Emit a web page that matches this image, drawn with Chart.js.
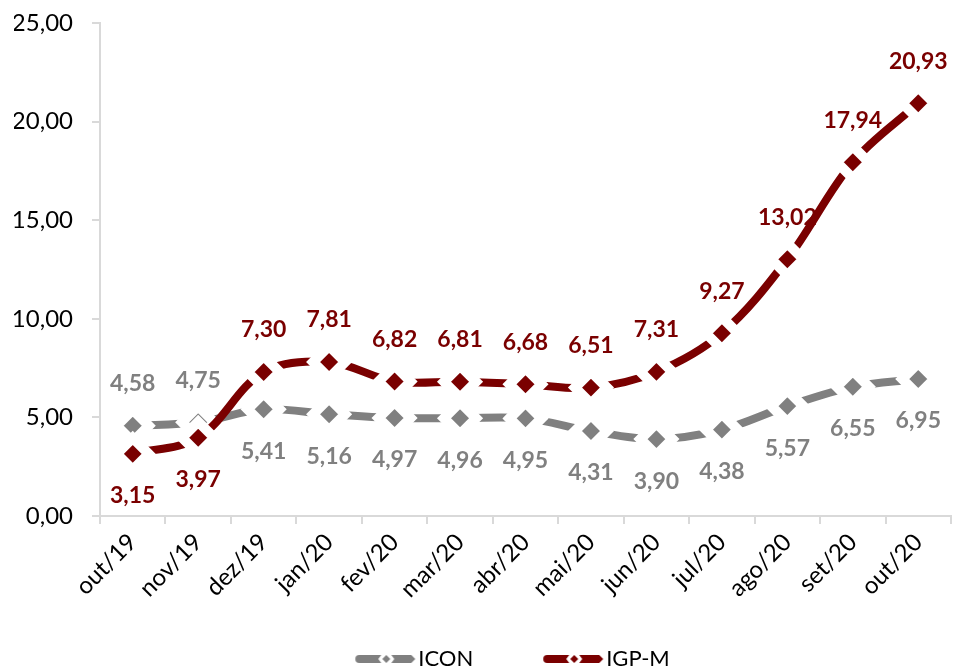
<!DOCTYPE html>
<html>
<head>
<meta charset="utf-8">
<script src="https://cdn.jsdelivr.net/npm/chart.js@4"></script>
<style>
  html, body { margin: 0; padding: 0; background: #fff; }
  #caixa { width: 960px; height: 672px; }
</style>
</head>
<body>
<div id="caixa"><canvas id="grafico"></canvas></div>
<script>
    // Dados do gráfico
    var meses = ['out/19', 'nov/19', 'dez/19', 'jan/20', 'fev/20', 'mar/20', 'abr/20',
                 'mai/20', 'jun/20', 'jul/20', 'ago/20', 'set/20', 'out/20'];
    var icon = [4.58, 4.75, 5.41, 5.16, 4.97, 4.96, 4.95, 4.31, 3.90, 4.38, 5.57, 6.55, 6.95];
    var igpm = [3.15, 3.97, 7.30, 7.81, 6.82, 6.81, 6.68, 6.51, 7.31, 9.27, 13.02, 17.94, 20.93];
    var ticksY = [0, 5, 10, 15, 20, 25];

    var corIcon = '#808080';
    var corIgpm = '#7a0000';
    var fonte = 'Lato, "Open Sans", sans-serif';

    function virgula(v) {
        return v.toFixed(2).replace('.', ',');
    }

    // marcador da legenda: traço - losango - traço
    function marcaLegenda(cor, largura) {
        var c = document.createElement('canvas');
        c.width = largura; c.height = 14;
        var g = c.getContext('2d');
        var x0 = largura - 62;
        g.fillStyle = cor;
        g.beginPath();
        g.moveTo(x0 + 4, 3); g.lineTo(x0 + 26, 3); g.lineTo(x0 + 23, 7); g.lineTo(x0 + 26, 11);
        g.lineTo(x0 + 4, 11); g.arc(x0 + 4, 7, 4, Math.PI / 2, Math.PI * 1.5);
        g.fill();
        g.beginPath();
        g.moveTo(x0 + 31, 3); g.lineTo(x0 + 35, 7); g.lineTo(x0 + 31, 11); g.lineTo(x0 + 27, 7);
        g.fill();
        g.beginPath();
        g.moveTo(x0 + 36, 3); g.lineTo(x0 + 56, 3); g.lineTo(x0 + 60, 7); g.lineTo(x0 + 56, 11);
        g.lineTo(x0 + 36, 11); g.lineTo(x0 + 39, 7);
        g.fill();
        return c;
    }

    var larguraCaixa = 112;
    var marcas = [marcaLegenda(corIcon, larguraCaixa + 20), marcaLegenda(corIgpm, larguraCaixa + 20)];

    // rótulos de dados (acima / abaixo conforme a outra série)
    var rotulos = {
        id: 'rotulos',
        afterDatasetsDraw: function(chart) {
            var ctx = chart.ctx;
            ctx.save();
            ctx.font = 'bold 23px ' + fonte;
            ctx.textAlign = 'center';
            ctx.textBaseline = 'middle';
            chart.data.datasets.forEach(function(ds, i) {
                var meta = chart.getDatasetMeta(i);
                var outra = chart.data.datasets[1 - i].data;
                ctx.fillStyle = ds.borderColor;
                meta.data.forEach(function(pt, j) {
                    var acima = ds.data[j] > outra[j];
                    ctx.fillText(virgula(ds.data[j]), pt.x, pt.y + (acima ? -42 : 42));
                });
            });
            ctx.restore();
        }
    };

    var ctx1 = document.getElementById('grafico').getContext('2d');
    var grafico = new Chart(ctx1, {
        type: 'line',
        data: {
            labels: meses,
            datasets: [{
                label: 'ICON',
                data: icon,
                borderColor: corIcon,
                backgroundColor: corIcon,
                borderWidth: 8,
                tension: 0.35,
                pointStyle: 'rectRot',
                pointRadius: 16,
                pointBorderWidth: 10,
                pointBorderColor: '#fff',
                pointBackgroundColor: corIcon,
                order: 1
            }, {
                label: 'IGP-M',
                data: igpm,
                borderColor: corIgpm,
                backgroundColor: corIgpm,
                borderWidth: 8,
                tension: 0.35,
                pointStyle: 'rectRot',
                pointRadius: 16,
                pointBorderWidth: 10,
                pointBorderColor: '#fff',
                pointBackgroundColor: corIgpm,
                order: 0
            }]
        },
        options: {
            responsive: true,
            maintainAspectRatio: false,
            animation: false,
            layout: { autoPadding: false, padding: { top: 23, right: 9, left: 14, bottom: -8 } },
            plugins: {
                tooltip: { enabled: false },
                legend: {
                    position: 'bottom',
                    labels: {
                        usePointStyle: true,
                        pointStyleWidth: larguraCaixa,
                        padding: 10,
                        color: '#000',
                        font: { family: fonte, size: 22 },
                        generateLabels: function(chart) {
                            return chart.data.datasets.map(function(ds, i) {
                                return {
                                    text: ds.label,
                                    pointStyle: marcas[i],
                                    fillStyle: ds.borderColor,
                                    strokeStyle: ds.borderColor,
                                    lineWidth: 0,
                                    hidden: false,
                                    datasetIndex: i,
                                    fontColor: '#000'
                                };
                            });
                        }
                    }
                }
            },
            scales: {
                x: {
                    offset: true,
                    afterFit: function(s) {
                        s.height = 122;
                        s.paddingLeft = 0;
                        s.paddingRight = 0;
                    },
                    grid: { offset: true, drawOnChartArea: false, tickLength: 8, color: '#d9d9d9', lineWidth: 2 },
                    border: { color: '#d9d9d9', width: 2 },
                    ticks: {
                        autoSkip: false,
                        minRotation: 45,
                        maxRotation: 45,
                        padding: 4,
                        color: '#000',
                        font: { family: fonte, size: 24 }
                    }
                },
                y: {
                    min: 0,
                    max: 25,
                    afterFit: function(s) {
                        s.width = 86;
                        s.paddingTop = 0;
                        s.paddingBottom = 0;
                    },
                    afterBuildTicks: function(s) {
                        s.ticks = ticksY.map(function(v) { return { value: v }; });
                    },
                    grid: { drawOnChartArea: false, tickLength: 8, color: '#d9d9d9', lineWidth: 2 },
                    border: { color: '#d9d9d9', width: 2 },
                    ticks: {
                        padding: 19,
                        color: '#000',
                        font: { family: fonte, size: 24 },
                        callback: function(v) { return virgula(v); }
                    }
                }
            }
        },
        plugins: [rotulos]
    });
</script>
</body>
</html>
